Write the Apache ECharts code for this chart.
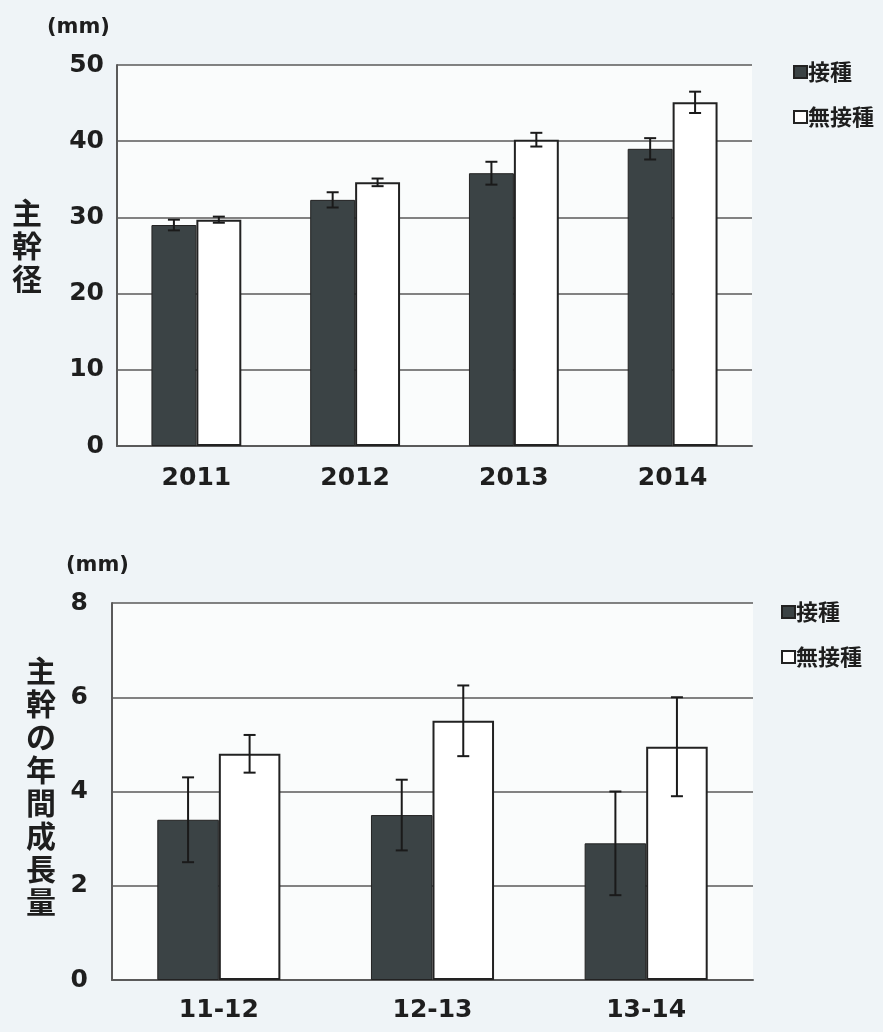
<!DOCTYPE html>
<html>
<head>
<meta charset="utf-8">
<script src="https://cdn.jsdelivr.net/npm/echarts@6/dist/echarts.min.js"></script>
<style>
  html, body { margin: 0; padding: 0; background: #eff4f7; }
  #chart { width: 883px; height: 1032px; }
</style>
</head>
<body>
<div id="chart"></div>
<script>
// 上: 主幹径
const years = ['2011', '2012', '2013', '2014']
const diamInoc = [29.0, 32.3, 35.8, 39.0]
const diamInocErr = [0.7, 1.0, 1.5, 1.4]
const diamNone = [29.7, 34.6, 40.2, 45.1]
const diamNoneErr = [0.4, 0.5, 0.9, 1.4]

// 下: 年間成長量
const periods = ['11-12', '12-13', '13-14']
const growInoc = [3.4, 3.5, 2.9]
const growInocErr = [0.9, 0.75, 1.1]
const growNone = [4.8, 5.5, 4.95]
const growNoneErr = [0.4, 0.75, 1.05]

const diamTicks = [0, 10, 20, 30, 40, 50]
const growTicks = [0, 2, 4, 6, 8]

const DARK = '#3b4345'
const LINE = '#5a5a5a'
const TEXT = '#1e1e1e'
const numFont = '"DejaVu Sans", sans-serif'
const jpFont = '"Noto Sans CJK JP", sans-serif'

const chart = echarts.init(document.getElementById('chart'))

// エラーバー (custom series)
function errorSeries (gridIdx, values, errs, side, barFrac) {
  return {
    type: 'custom',
    xAxisIndex: gridIdx,
    yAxisIndex: gridIdx,
    z: 10,
    silent: true,
    data: values.map((v, i) => [i, v, errs[i]]),
    renderItem: (params, api) => {
      const i = api.value(0)
      const v = api.value(1)
      const e = api.value(2)
      const band = api.size([1, 0])[0]
      const dx = side * band * barFrac / 2
      const hi = api.coord([i, v + e])
      const lo = api.coord([i, v - e])
      const x = hi[0] + dx
      const cap = 6
      const style = { stroke: '#1a1a1a', lineWidth: 2 }
      return {
        type: 'group',
        children: [
          { type: 'line', shape: { x1: x, y1: hi[1], x2: x, y2: lo[1] }, style },
          { type: 'line', shape: { x1: x - cap, y1: hi[1], x2: x + cap, y2: hi[1] }, style },
          { type: 'line', shape: { x1: x - cap, y1: lo[1], x2: x + cap, y2: lo[1] }, style }
        ]
      }
    }
  }
}

function yAxisOpt (gridIdx, ticks, margin) {
  return {
    gridIndex: gridIdx,
    type: 'value',
    min: ticks[0],
    max: ticks[ticks.length - 1],
    interval: ticks[1] - ticks[0],
    axisLine: { show: true, lineStyle: { color: LINE, width: 2 } },
    axisTick: { show: false },
    axisLabel: { color: TEXT, fontSize: 25, fontWeight: 'bold', fontFamily: numFont, margin },
    splitLine: { show: true, lineStyle: { color: LINE, width: 1.5 } }
  }
}

function xAxisOpt (gridIdx, cats, margin) {
  return {
    gridIndex: gridIdx,
    type: 'category',
    data: cats,
    axisLine: { show: true, lineStyle: { color: LINE, width: 2 } },
    axisTick: { show: false },
    axisLabel: { color: TEXT, fontSize: 25, fontWeight: 'bold', fontFamily: numFont, margin }
  }
}

function legendOpt (left, top) {
  return {
    data: ['接種', '無接種'],
    orient: 'vertical',
    left,
    top,
    itemGap: 23,
    itemWidth: 13,
    itemHeight: 12,
    icon: 'rect',
    textStyle: { fontSize: 22, fontWeight: 'bold', fontFamily: jpFont, color: TEXT, padding: [0, 0, 0, -4] }
  }
}

const barTop = 0.283
const barBottom = 0.288

const option = {
  backgroundColor: '#eff4f7',
  animation: false,
  grid: [
    { left: 117, right: 131, top: 65, bottom: 586, show: true, backgroundColor: '#fafcfc', borderWidth: 0 },
    { left: 112, right: 130, top: 603, bottom: 52, show: true, backgroundColor: '#fafcfc', borderWidth: 0 }
  ],
  legend: [legendOpt(788, 56), legendOpt(776, 596)],
  xAxis: [xAxisOpt(0, years, 20), xAxisOpt(1, periods, 18)],
  yAxis: [yAxisOpt(0, diamTicks, 13), yAxisOpt(1, growTicks, 24)],
  graphic: [
    { type: 'text', left: 47, top: 17, style: { text: '(mm)', fontSize: 21, fontWeight: 'bold', fontFamily: numFont, fill: TEXT } },
    { type: 'text', left: 66, top: 555, style: { text: '(mm)', fontSize: 21, fontWeight: 'bold', fontFamily: numFont, fill: TEXT } },
    { type: 'text', left: 12, top: 196, style: { text: '主\n幹\n径', fontSize: 30, lineHeight: 33, fontWeight: 'bold', fontFamily: jpFont, fill: TEXT } },
    { type: 'text', left: 26, top: 654, style: { text: '主\n幹\nの\n年\n間\n成\n長\n量', fontSize: 30, lineHeight: 33, fontWeight: 'bold', fontFamily: jpFont, fill: TEXT } }
  ],
  series: [
    {
      name: '接種', type: 'bar', xAxisIndex: 0, yAxisIndex: 0, data: diamInoc,
      barWidth: (barTop * 100) + '%', barGap: '0%',
      itemStyle: { color: DARK, borderColor: '#222', borderWidth: 1 }
    },
    {
      name: '無接種', type: 'bar', xAxisIndex: 0, yAxisIndex: 0, data: diamNone,
      barWidth: (barTop * 100) + '%', barGap: '0%',
      itemStyle: { color: '#ffffff', borderColor: '#222', borderWidth: 2 }
    },
    {
      name: '接種', type: 'bar', xAxisIndex: 1, yAxisIndex: 1, data: growInoc,
      barWidth: (barBottom * 100) + '%', barGap: '0%',
      itemStyle: { color: DARK, borderColor: '#222', borderWidth: 1 }
    },
    {
      name: '無接種', type: 'bar', xAxisIndex: 1, yAxisIndex: 1, data: growNone,
      barWidth: (barBottom * 100) + '%', barGap: '0%',
      itemStyle: { color: '#ffffff', borderColor: '#222', borderWidth: 2 }
    },
    errorSeries(0, diamInoc, diamInocErr, -1, barTop),
    errorSeries(0, diamNone, diamNoneErr, 1, barTop),
    errorSeries(1, growInoc, growInocErr, -1, barBottom),
    errorSeries(1, growNone, growNoneErr, 1, barBottom)
  ]
}

chart.setOption(option)
</script>
</body>
</html>
